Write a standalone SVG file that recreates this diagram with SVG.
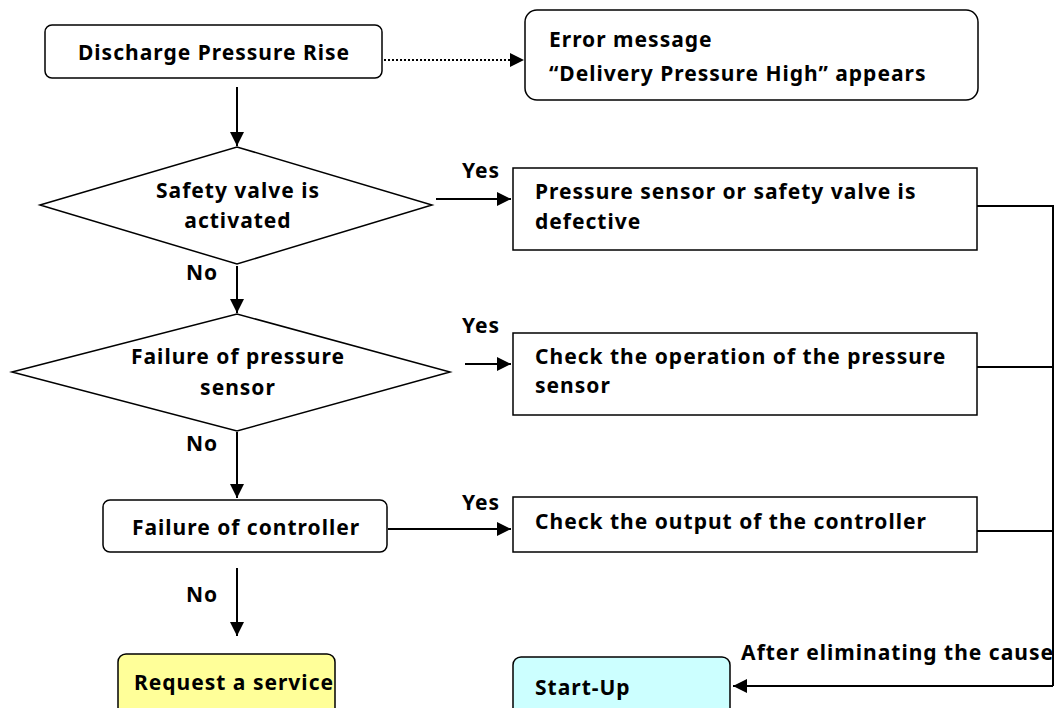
<svg xmlns="http://www.w3.org/2000/svg" width="1057" height="708" viewBox="0 0 1057 708">
<defs>
<marker id="ah" viewBox="0 0 10 10" refX="10" refY="5" markerWidth="14" markerHeight="14" markerUnits="userSpaceOnUse" orient="auto"><path d="M0,0 L10,5 L0,10 z" fill="#000"/></marker>
<style>
text{font-family:"Noto Sans","Liberation Sans",sans-serif;font-weight:bold;font-size:21px;letter-spacing:1px;fill:#000}
.c{text-anchor:middle}
.s{fill:#fff;stroke:#000;stroke-width:1.5}
.ln{fill:none;stroke:#000;stroke-width:2}
</style>
</defs>
<rect width="1057" height="708" fill="#fff"/>
<g id="connectors">
<line class="ln" x1="384" y1="60" x2="524" y2="60" stroke-dasharray="2,2" marker-end="url(#ah)"/>
<line class="ln" x1="237" y1="87" x2="237" y2="146" marker-end="url(#ah)"/>
<line class="ln" x1="436" y1="199" x2="511" y2="199" marker-end="url(#ah)"/>
<line class="ln" x1="237" y1="266" x2="237" y2="313" marker-end="url(#ah)"/>
<line class="ln" x1="465" y1="364" x2="511" y2="364" marker-end="url(#ah)"/>
<line class="ln" x1="237" y1="432" x2="237" y2="498" marker-end="url(#ah)"/>
<line class="ln" x1="388" y1="529" x2="511" y2="529" marker-end="url(#ah)"/>
<line class="ln" x1="237" y1="568" x2="237" y2="636" marker-end="url(#ah)"/>
<polyline class="ln" points="977,206 1053,206 1053,686"/>
<line class="ln" x1="977" y1="367" x2="1053" y2="367"/>
<line class="ln" x1="977" y1="531" x2="1053" y2="531"/>
<line class="ln" x1="1053" y1="686" x2="733" y2="686" marker-end="url(#ah)"/>
<text x="481" y="178" class="c">Yes</text>
<text x="481" y="333" class="c">Yes</text>
<text x="481" y="510" class="c">Yes</text>
<text x="202" y="280" class="c">No</text>
<text x="202" y="451" class="c">No</text>
<text x="202" y="602" class="c">No</text>
<text x="1054" y="660" text-anchor="end">After eliminating the cause</text>
</g>
<g id="n1"><rect class="s" x="45" y="25" width="337" height="53" rx="7"/><text x="214" y="60" class="c">Discharge Pressure Rise</text></g>
<g id="n2"><rect class="s" x="525" y="10" width="453" height="90" rx="12"/><text x="549" y="47">Error message</text><text x="549" y="81">“Delivery Pressure High” appears</text></g>
<g id="d1"><polygon class="s" points="40,205 237,147 432,205 237,264"/><text x="238" y="198" class="c">Safety valve is</text><text x="238" y="228" class="c">activated</text></g>
<g id="b1"><rect class="s" x="513" y="168" width="464" height="82"/><text x="535" y="199">Pressure sensor or safety valve is</text><text x="535" y="229">defective</text></g>
<g id="d2"><polygon class="s" points="12,372 237,314 450,372 237,431"/><text x="238" y="364" class="c">Failure of pressure</text><text x="238" y="395" class="c">sensor</text></g>
<g id="b2"><rect class="s" x="513" y="333" width="464" height="82"/><text x="535" y="364">Check the operation of the pressure</text><text x="535" y="393">sensor</text></g>
<g id="n3"><rect class="s" x="103" y="500" width="284" height="52" rx="7"/><text x="246" y="535" class="c">Failure of controller</text></g>
<g id="b3"><rect class="s" x="513" y="497" width="464" height="55"/><text x="535" y="529">Check the output of the controller</text></g>
<g id="n4"><rect x="118" y="654" width="217" height="70" rx="8" fill="#ffff99" stroke="#000" stroke-width="1.5"/><text x="234" y="690" class="c">Request a service</text></g>
<g id="n5"><rect x="513" y="657" width="217" height="70" rx="8" fill="#ccffff" stroke="#000" stroke-width="1.5"/><text x="535" y="695">Start-Up</text></g>
</svg>
